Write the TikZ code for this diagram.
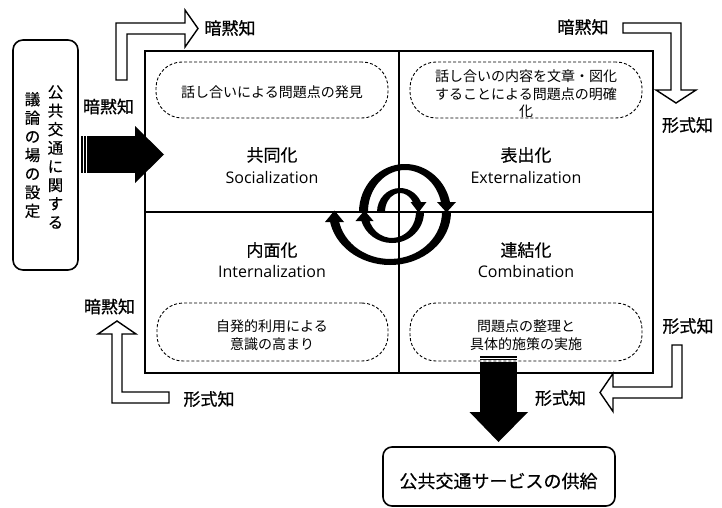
\documentclass[tikz,border=0pt]{standalone}
\usepackage{fontspec}
\newfontfamily\jp{Noto Sans CJK JP}
\newfontfamily\jpb[FakeBold=0.8]{Noto Sans CJK JP}
\newfontfamily\jpm[FakeBold=0.4]{Noto Sans CJK JP}
\newfontfamily\lat{Open Sans}
\usetikzlibrary{arrows.meta}
\tikzset{
  mainbox/.style={draw, line width=1.8pt, inner sep=0pt},
  divider/.style={line width=1.8pt},
  roundbox/.style={draw, line width=1.6pt, inner sep=0pt},
  hollow/.style={draw=black, fill=white, line width=1.4pt, line join=miter},
  solid arrow/.style={fill=black},
  dashbox/.style={draw, dash pattern=on 3pt off 2pt, line width=0.9pt, rounded corners=26pt, inner sep=0pt},
  lbl/.style={font=\jpb\fontsize{17}{20}\selectfont, inner sep=0pt},
  ttl/.style={font=\jpm\fontsize{17}{20}\selectfont, inner sep=0pt},
  sub/.style={font=\lat\fontsize{16}{19}\selectfont, inner sep=0pt},
  dtxt/.style={font=\jp\fontsize{14}{17.5}\selectfont, align=center, inner sep=0pt},
  vtxt/.style={font=\jpm\fontsize{15.5}{18.6}\selectfont, align=center, inner sep=0pt},
  btxt/.style={font=\jpm\fontsize{18}{21}\selectfont, inner sep=0pt},
  spiral/.style={fill=black},
}
\begin{document}
\begin{tikzpicture}[x=1pt,y=-1pt]
\useasboundingbox (0,0) rectangle (722,508);

% main box and quadrants
\node[mainbox, minimum width=508pt, minimum height=322pt] (mb) at (399,212) {};
\draw[divider] (mb.north) -- (mb.south);
\draw[divider] (mb.west) -- (mb.east);

% dashed boxes
\node[dashbox, minimum width=232pt, minimum height=56pt] (d1) at (272,90) {};
\node[dashbox, minimum width=232pt, minimum height=56pt] (d2) at (526,90) {};
\node[dashbox, minimum width=231pt, minimum height=58pt] (d3) at (272.5,332) {};
\node[dashbox, minimum width=232pt, minimum height=58pt] (d4) at (526,332) {};
\node[dtxt] (t1) at (272,92) {話し合いによる問題点の発見};
\node[dtxt] (t2) at (526,94) {話し合いの内容を文章・図化\\することによる問題点の明確\\化};
\node[dtxt] (t3) at (272,335) {自発的利用による\\意識の高まり};
\node[dtxt] (t4) at (526,335) {問題点の整理と\\具体的施策の実施};

% quadrant titles
\node[ttl] (q1) at (272,155) {共同化};
\node[sub] (s1) at (272,177) {Socialization};
\node[ttl] (q2) at (526,155) {表出化};
\node[sub] (s2) at (526,177) {Externalization};
\node[ttl] (q3) at (272,250) {内面化};
\node[sub] (s3) at (272,271) {Internalization};
\node[ttl] (q4) at (526,250) {連結化};
\node[sub] (s4) at (526,271) {Combination};

% spiral
\fill[spiral] (377,212) arc[start angle=180,end angle=340,x radius=23,y radius=24] -- (414.1,205.5) arc[start angle=340,end angle=180,x radius=15,y radius=19] -- cycle;
\fill[spiral] (410.5,202) -- (426.5,202) -- (418.5,212.5) -- cycle;
\fill[spiral] (424,212) arc[start angle=0,end angle=165,x radius=32,y radius=31] -- (368.8,218.7) arc[start angle=165,end angle=0,x radius=24,y radius=26] -- cycle;
\fill[spiral] (355.5,221) -- (373.5,221) -- (364.5,210.5) -- cycle;
\fill[spiral] (359,212) arc[start angle=180,end angle=350,x radius=46,y radius=48] -- (441.4,204.7) arc[start angle=350,end angle=180,x radius=37,y radius=42] -- cycle;
\fill[spiral] (437,202) -- (456,202) -- (446.5,212.5) -- cycle;
\fill[spiral] (451,212) arc[start angle=0,end angle=172,x radius=61,y radius=53] -- (338.5,218.5) arc[start angle=172,end angle=0,x radius=52,y radius=47] -- cycle;
\fill[spiral] (325,222) -- (344,222) -- (334.5,210.5) -- cycle;

% left box
\node[roundbox, rounded corners=10pt, minimum width=65pt, minimum height=230pt] (lb) at (45.5,155) {};
\node[vtxt] (v1) at (55.5,157) {公\\共\\交\\通\\に\\関\\す\\る};
\node[vtxt] (v2) at (32.5,155) {議\\論\\の\\場\\の\\設\\定};

% bottom box
\node[roundbox, rounded corners=9pt, minimum width=232pt, minimum height=59pt] (bb) at (499,476.5) {};
\node[btxt] (bt) at (498.5,481) {公共交通サービスの供給};

% solid arrows
\fill[solid arrow] (81,136) rectangle (83.3,173);
\fill[solid arrow] (84.4,136) rectangle (86.2,173);
\fill[solid arrow] (87.4,136) rectangle (135.5,173);
\fill[solid arrow] (135,126) -- (164,154.5) -- (135,183) -- cycle;

\fill[solid arrow] (480,356) rectangle (517,357.5);
\fill[solid arrow] (480,358.8) rectangle (517,360.4);
\fill[solid arrow] (480,362) rectangle (517,413);
\fill[solid arrow] (469.5,412) -- (528,412) -- (498.5,442) -- cycle;

% hollow arrows
\draw[hollow] (116,80) -- (116,23) -- (185,23) -- (185,10) -- (198,28.5) -- (185,47) -- (185,34) -- (127,34) -- (127,80) -- cycle;
\draw[hollow] (623,23) -- (681,23) -- (681,90) -- (696,90) -- (676,103) -- (656,90) -- (671,90) -- (671,33) -- (623,33) -- cycle;
\draw[hollow] (169,392) -- (122,392) -- (122,334) -- (136,334) -- (117,321) -- (98,334) -- (112,334) -- (112,403) -- (169,403) -- cycle;
\draw[hollow] (672,345) -- (682,345) -- (682,398) -- (613,398) -- (613,411.5) -- (600,392.5) -- (613,373.5) -- (613,387) -- (672,387) -- cycle;

% labels
\node[lbl] (l1) at (230,28) {暗黙知};
\node[lbl] (l2) at (108.5,106.5) {暗黙知};
\node[lbl] (l3) at (583,27) {暗黙知};
\node[lbl] (l4) at (687.5,125) {形式知};
\node[lbl] (l5) at (109.5,306.5) {暗黙知};
\node[lbl] (l6) at (209,399) {形式知};
\node[lbl] (l7) at (688,326) {形式知};
\node[lbl] (l8) at (560.5,398) {形式知};
\end{tikzpicture}
\end{document}
